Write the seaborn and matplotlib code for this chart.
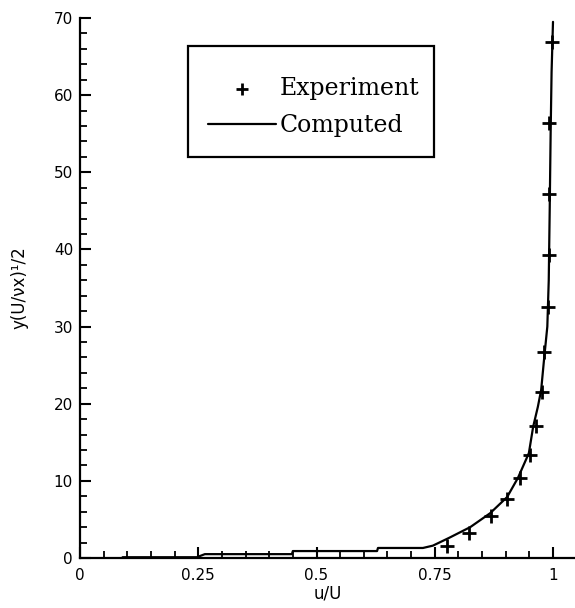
import numpy as np
import pandas as pd
import matplotlib
matplotlib.use("Agg")
import matplotlib.pyplot as plt
from matplotlib.ticker import MultipleLocator, FixedLocator
from matplotlib.patches import Rectangle
import seaborn as sns

# Experiment data (u/U, y(U/nu x)^1/2)
exp_x = [0.776, 0.822, 0.869, 0.903, 0.930, 0.951, 0.964, 0.977, 0.981, 0.989, 0.992, 0.992, 0.992, 0.998]
exp_y = [1.6, 3.2, 5.4, 7.6, 10.4, 13.4, 17.1, 21.5, 26.7, 32.5, 39.3, 47.2, 56.4, 66.9]

# Computed curve
comp_x = [0.09, 0.247, 0.264, 0.448, 0.450, 0.628, 0.630, 0.725, 0.746, 0.78, 0.825, 0.867, 0.903,
          0.926, 0.949, 0.958, 0.968, 0.975, 0.981, 0.988, 0.991, 0.993, 0.995, 0.997, 1.0]
comp_y = [0.1, 0.1, 0.5, 0.5, 0.9, 0.9, 1.3, 1.3, 1.6, 2.6, 4.0, 5.8, 7.9,
          10.4, 13.6, 17.0, 19.6, 21.8, 25.7, 30.0, 36.0, 45.0, 55.0, 63.0, 69.5]

x_ticks = [0, 0.25, 0.5, 0.75, 1]
x_ticklabels = ["0", "0.25", "0.5", "0.75", "1"]
y_ticks = [0, 10, 20, 30, 40, 50, 60, 70]

sns.set_style("white")
plt.rcParams['font.family'] = ['DejaVu Sans']

W, H = 575, 608
fig = plt.figure(figsize=(W / 100, H / 100), dpi=100)
ax = fig.add_axes([80/W, 50/H, 495/W, 540/H])

exp_df = pd.DataFrame({"x": exp_x, "y": exp_y})
comp_df = pd.DataFrame({"x": comp_x, "y": comp_y})

sns.lineplot(data=comp_df, x="x", y="y", sort=False, estimator=None, color="black",
             linewidth=1.6, ax=ax, label="Computed")
sns.scatterplot(data=exp_df, x="x", y="y", marker="+", s=110, color="black",
                linewidth=2.0, ax=ax, label="Experiment", zorder=3)

ax.set_xlim(0, 495/473)
ax.set_ylim(0, 70)
ax.spines['top'].set_visible(False)
ax.spines['right'].set_visible(False)
for s in ['left', 'bottom']:
    ax.spines[s].set_linewidth(1.6)
    ax.spines[s].set_color("black")

ax.set_xticks(x_ticks)
ax.set_xticklabels(x_ticklabels)
ax.set_yticks(y_ticks)
ax.xaxis.set_minor_locator(FixedLocator([i * 0.05 for i in range(21)]))
ax.yaxis.set_minor_locator(MultipleLocator(2))
ax.tick_params(axis='both', which='major', direction='in', length=8, width=1.5,
               labelsize=11, pad=5, color="black", labelcolor="black", bottom=True, left=True)
ax.tick_params(axis='x', which='major', pad=7)
ax.tick_params(axis='both', which='minor', direction='in', length=5, width=1.3,
               color="black", bottom=True, left=True)

ax.set_xlabel("u/U", fontsize=12, labelpad=1, color="black")
ax.set_ylabel("y(U/νx)¹/2", fontsize=12, labelpad=18, color="black")

# legend frame box
frame = Rectangle((188/W, 1 - 157/H), (434 - 188)/W, (157 - 46)/H,
                  transform=fig.transFigure, fill=True, facecolor="white",
                  edgecolor="black", linewidth=1.6, zorder=4, clip_on=False)
ax.add_patch(frame)

handles, labels = ax.get_legend_handles_labels()
order = [labels.index("Experiment"), labels.index("Computed")]
leg = ax.legend([handles[i] for i in order], [labels[i] for i in order],
                loc="upper left", bbox_to_anchor=(190/W, 1 - 59/H),
                bbox_transform=fig.transFigure, frameon=False, borderpad=0.75,
                handlelength=2.9, handletextpad=0.15, labelspacing=0.6,
                borderaxespad=0, markerscale=0.85,
                prop={"family": "DejaVu Serif", "size": 17})
for t in leg.get_texts():
    t.set_color("black")
leg.set_zorder(6)

fig.savefig("out.png", dpi=100)
